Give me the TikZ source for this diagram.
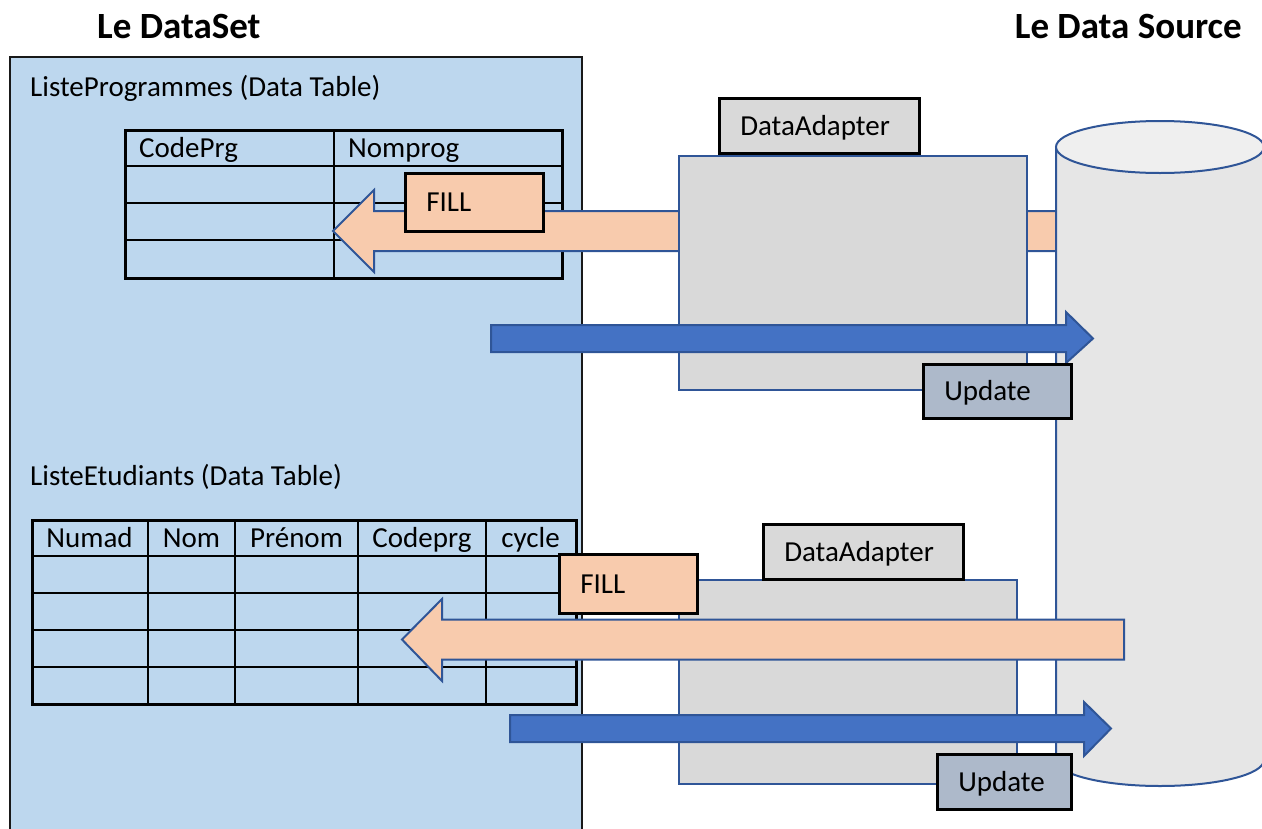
\documentclass[tikz,border=0pt]{standalone}
\usepackage{fontspec}
\setmainfont{Carlito}
\definecolor{dsblue}{HTML}{BDD7EE}
\definecolor{peach}{HTML}{F8CBAD}
\definecolor{bordblue}{HTML}{2F5597}
\definecolor{adgray}{HTML}{D9D9D9}
\definecolor{updgray}{HTML}{ADB9CA}
\definecolor{arrblue}{HTML}{4472C4}
\definecolor{cylbody}{HTML}{E6E6E6}
\definecolor{cyltop}{HTML}{EFEFEF}
\begin{document}
\begin{tikzpicture}[x=1pt,y=-1pt,
  txt/.style={font=\fontsize{29pt}{34pt}\selectfont, inner sep=0pt},
  ttl/.style={font=\fontsize{37pt}{44pt}\selectfont\bfseries, inner sep=0pt},
  tag/.style={draw=black, line width=2.5pt, anchor=north west, inner ysep=0pt,
    inner xsep=21pt, align=left, text height=19pt, text depth=0pt,
    font=\fontsize{29pt}{34pt}\selectfont},
  adbox/.style={draw=bordblue, fill=adgray, line width=2pt, anchor=north west, inner sep=0pt},
  tblline/.style={draw=black, line width=2.5pt},
  fillarrow/.style={draw=bordblue, fill=peach, line width=2pt, line join=miter},
  updarrow/.style={draw=bordblue, fill=arrblue, line width=2pt, line join=miter},
  cyl/.style={draw=bordblue, line width=2pt}]
\useasboundingbox (0,0) rectangle (1262,828);
\clip (0,0) rectangle (1262,828);

% titles
\node[ttl, anchor=base west] (t1) at (97,38) {Le DataSet};
\node[ttl, anchor=base east] (t2) at (1242,38) {Le Data Source};

% dataset box
\draw[draw=black!90, fill=dsblue, line width=2pt] (9.5,57) rectangle (582,860);
\node[txt, anchor=base west] (lp) at (30,96) {ListeProgrammes (Data Table)};
\node[txt, anchor=base west] (le) at (30,485) {ListeEtudiants (Data Table)};

% table 1
\node[draw=black, line width=2.5pt, anchor=north west, inner sep=0pt,
  minimum width=437, minimum height=148] (tab1) at (124,129) {};
\draw[tblline] (334,129) -- (334,277);
\foreach \yy in {166,203,240} \draw[tblline] (124,\yy) -- (561,\yy);
\node[txt, anchor=base west] (h11) at (139,157) {CodePrg};
\node[txt, anchor=base west] (h12) at (348,157) {Nomprog};

% table 2
\node[draw=black, line width=2.5pt, anchor=north west, inner sep=0pt,
  minimum width=544, minimum height=184] (tab2) at (31,519) {};
\foreach \xx in {148,235,358,486} \draw[tblline] (\xx,519) -- (\xx,703);
\foreach \yy in {556,593,630,667} \draw[tblline] (31,\yy) -- (575,\yy);
\node[txt, anchor=base] (h21) at (89.5,547) {Numad};
\node[txt, anchor=base] (h22) at (191.5,547) {Nom};
\node[txt, anchor=base] (h23) at (296.5,547) {Prénom};
\node[txt, anchor=base] (h24) at (422,547) {Codeprg};
\node[txt, anchor=base] (h25) at (530.5,547) {cycle};

% FILL arrow 1 (behind adapter and cylinder)
\draw[fillarrow] (333,231) -- (374,190) -- (374,211) -- (1110,211) -- (1110,251)
  -- (374,251) -- (374,272) -- cycle;

% cylinder (data source)
\draw[cyl, fill=cylbody] (1056,147) -- (1056,760)
  arc[start angle=180, end angle=0, x radius=104, y radius=26] -- (1264,147);
\draw[cyl, fill=cyltop] (1160,147) ellipse [x radius=104, y radius=26];

% adapter 1
\node[adbox, minimum width=348, minimum height=234] (ad1) at (678,155) {};
\node[tag, fill=adgray, text width=158pt, minimum height=55] (ad1t) at (718,97) {DataAdapter};
\node[tag, fill=peach, text width=96pt, minimum height=58] (f1) at (404,172) {FILL};
\draw[updarrow] (491,325) -- (1066,325) -- (1066,312) -- (1093,338.5) -- (1066,363)
  -- (1066,352) -- (491,352) -- cycle;
\node[tag, fill=updgray, text width=106pt, minimum height=54] (u1) at (922,363) {Update};

% adapter 2
\node[adbox, minimum width=338, minimum height=204] (ad2) at (678,579) {};
\node[tag, fill=adgray, text width=158pt, minimum height=55] (ad2t) at (762,523) {DataAdapter};
\draw[fillarrow] (402,639.5) -- (442,599) -- (442,619.5) -- (1124,619.5) -- (1124,659.5)
  -- (442,659.5) -- (442,681) -- cycle;
\node[tag, fill=peach, text width=96pt, minimum height=59] (f2) at (558,553) {FILL};
\draw[updarrow] (510,715) -- (1084,715) -- (1084,702) -- (1111,728.5) -- (1084,756)
  -- (1084,742) -- (510,742) -- cycle;
\node[tag, fill=updgray, text width=92pt, minimum height=55] (u2) at (936,753) {Update};
\end{tikzpicture}
\end{document}
